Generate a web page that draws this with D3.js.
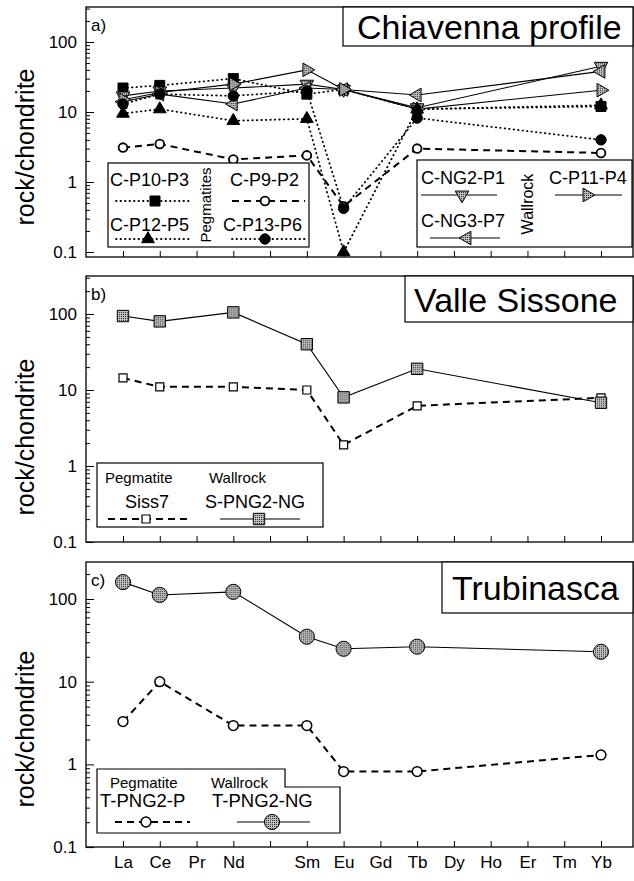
<!DOCTYPE html>
<html>
<head>
<meta charset="utf-8">
<script src="https://cdn.jsdelivr.net/npm/d3@7"></script>
<style>
  body { margin: 0; background: #fff; }
  svg { display: block; font-family: "Liberation Sans", Arial, Helvetica, sans-serif; }
</style>
</head>
<body>
<svg id="chart" width="634" height="881"></svg>
<script>
// REE axis (Pm is a slot without label)
const elements = ["La", "Ce", "Pr", "Nd", "Pm", "Sm", "Eu", "Gd", "Tb", "Dy", "Ho", "Er", "Tm", "Yb"];
const tickLabels = ["La", "Ce", "Pr", "Nd", "", "Sm", "Eu", "Gd", "Tb", "Dy", "Ho", "Er", "Tm", "Yb"];
const measured = ["La", "Ce", "Nd", "Sm", "Eu", "Tb", "Yb"];
const majorTicks = [0.1, 1, 10, 100];

// a) Chiavenna profile
const cP10P3 = [22, 24, 30, 18, 21, 11, 12];
const cP9P2 = [3.1, 3.5, 2.1, 2.4, 0.45, 3.0, 2.6];
const cP12P5 = [9.5, 11, 7.5, 8, 0.1, 11, 12.5];
const cP13P6 = [13, 18, 17, 20, 0.42, 8.2, 4.0];
const cNG2P1 = [17, 20, 22, 25, 21, 11.5, 45];
const cNG3P7 = [14, 18, 13, 22, 21, 17.5, 38];
const cP11P4 = [15, 19, 25, 40, 21, 11, 20.5];

// b) Valle Sissone
const siss7 = [14.4, 11, 11, 10, 1.9, 6.2, 7.9];
const sPNG2NG = [94, 80, 105, 40, 8, 19, 6.8];

// c) Trubinasca
const tPNG2P = [3.3, 10, 2.95, 2.95, 0.82, 0.82, 1.3];
const tPNG2NG = [160, 112, 122, 35, 25, 26.5, 23];

const svg = d3.select("#chart");
const x = d3.scalePoint().domain(elements).range([123, 601]);
const left = 86, right = 633;

// stippled grey fill of the wallrock symbols
const pat = svg.append("defs").append("pattern")
  .attr("id", "stip").attr("width", 2).attr("height", 2)
  .attr("patternUnits", "userSpaceOnUse");
pat.append("rect").attr("width", 2).attr("height", 2).attr("fill", "#bdbdbd");
pat.append("rect").attr("width", 1).attr("height", 1).attr("fill", "#333");

const marks = {
  square:  { type: d3.symbolSquare, size: 100, fill: "#000", rot: 0 },
  tri:     { type: d3.symbolTriangle, size: 70, fill: "#000", rot: 0 },
  dot:     { type: d3.symbolCircle, size: 85, fill: "#000", rot: 0 },
  ocirc:   { type: d3.symbolCircle, size: 60, fill: "#fff", rot: 0, sw: 1.8 },
  tdown:   { type: d3.symbolTriangle, size: 80, fill: "url(#stip)", rot: 180 },
  tleft:   { type: d3.symbolTriangle, size: 80, fill: "url(#stip)", rot: -90 },
  tright:  { type: d3.symbolTriangle, size: 80, fill: "url(#stip)", rot: 90 },
  gsquare: { type: d3.symbolSquare, size: 130, fill: "url(#stip)", rot: 0 },
  osquare: { type: d3.symbolSquare, size: 64, fill: "#fff", rot: 0, sw: 1.2 },
  gcirc:   { type: d3.symbolCircle, size: 180, fill: "url(#stip)", rot: 0 },
  ocirc2:  { type: d3.symbolCircle, size: 75, fill: "#fff", rot: 0, sw: 1.5 }
};

const lines = {
  dotted: { dash: "0.5,4", width: 1.8, cap: "round" },
  dashed: { dash: "7,5", width: 2, cap: "butt" },
  solid:  { dash: null, width: 1.1, cap: "butt" }
};

const panels = [
  {
    top: 7, bottom: 257, y100: 42, decade: 70, tag: "a)",
    title: "Chiavenna profile", box: [343, 7, 633, 46], tx: 357, ty: 39, yTitle: 147,
    series: [
      { name: "C-P10-P3", values: cP10P3, mark: "square", line: "dotted" },
      { name: "C-NG2-P1", values: cNG2P1, mark: "tdown", line: "solid" },
      { name: "C-NG3-P7", values: cNG3P7, mark: "tleft", line: "solid" },
      { name: "C-P11-P4", values: cP11P4, mark: "tright", line: "solid" },
      { name: "C-P9-P2", values: cP9P2, mark: "ocirc", line: "dashed" },
      { name: "C-P13-P6", values: cP13P6, mark: "dot", line: "dotted" },
      { name: "C-P12-P5", values: cP12P5, mark: "tri", line: "dotted" }
    ]
  },
  {
    top: 276, bottom: 542, y100: 314, decade: 76, tag: "b)",
    title: "Valle Sissone", box: [405, 276, 633, 322], tx: 414, ty: 312, yTitle: 437,
    series: [
      { name: "Siss7", values: siss7, mark: "osquare", line: "dashed" },
      { name: "S-PNG2-NG", values: sPNG2NG, mark: "gsquare", line: "solid" }
    ]
  },
  {
    top: 562, bottom: 847, y100: 599, decade: 82.7, tag: "c)",
    title: "Trubinasca", box: [442, 562, 633, 613], tx: 452, ty: 600, yTitle: 729,
    series: [
      { name: "T-PNG2-P", values: tPNG2P, mark: "ocirc2", line: "dashed" },
      { name: "T-PNG2-NG", values: tPNG2NG, mark: "gcirc", line: "solid" }
    ]
  }
];

function drawMark(g, kind, px, py) {
  const m = marks[kind];
  g.append("path")
    .attr("d", d3.symbol().type(m.type).size(m.size)())
    .attr("transform", `translate(${px},${py}) rotate(${m.rot})`)
    .attr("fill", m.fill)
    .attr("stroke", "#000")
    .attr("stroke-width", m.sw || 1);
}

function styleLine(sel, kind) {
  const l = lines[kind];
  sel.attr("fill", "none").attr("stroke", "#000")
    .attr("stroke-width", l.width)
    .attr("stroke-linecap", l.cap)
    .attr("stroke-dasharray", l.dash);
}

function legendSample(g, s, x1, x2, ly, mx) {
  g.append("line").attr("x1", x1).attr("x2", x2).attr("y1", ly).attr("y2", ly)
    .call(styleLine, s.line);
  drawMark(g, s.mark, mx, ly);
}

function label(g, txt, lx, ly, size, rot) {
  const t = g.append("text").attr("font-size", size).text(txt);
  if (rot) {
    t.attr("text-anchor", "middle").attr("transform", `translate(${lx},${ly}) rotate(-90)`);
  } else {
    t.attr("x", lx).attr("y", ly);
  }
  return t;
}

panels.forEach((p, pi) => {
  const g = svg.append("g");
  const y = d3.scaleLog().domain([0.1, 100]).range([p.y100 + 3 * p.decade, p.y100]);

  // frame
  g.append("rect").attr("x", left).attr("y", p.top)
    .attr("width", right - left).attr("height", p.bottom - p.top)
    .attr("fill", "none").attr("stroke", "#000").attr("stroke-width", 1.3);

  // y axis, ticks inside
  const minor = majorTicks.flatMap(d => d3.range(2, 10).map(k => d * k))
    .filter(v => y(v) > p.top + 1 && y(v) < p.bottom - 1);
  g.append("g").attr("transform", `translate(${left},0)`)
    .call(d3.axisLeft(y).tickValues(minor).tickSizeInner(-4).tickSizeOuter(0).tickFormat(""))
    .call(a => a.select(".domain").remove());
  g.append("g").attr("transform", `translate(${left},0)`)
    .call(d3.axisLeft(y).tickValues(majorTicks).tickSizeInner(-8).tickSizeOuter(0)
      .tickPadding(9).tickFormat(d => d < 1 ? "0.1" : d3.format("d")(d)))
    .call(a => a.select(".domain").remove())
    .call(a => a.selectAll("text").attr("font-size", 17).attr("font-family", null));

  // x axis, ticks inside
  g.append("g").attr("transform", `translate(0,${p.bottom})`)
    .call(d3.axisBottom(x).tickSizeInner(-6).tickSizeOuter(0).tickPadding(9)
      .tickFormat((d, i) => pi === 2 ? tickLabels[i] : ""))
    .call(a => a.select(".domain").remove())
    .call(a => a.selectAll("text").attr("font-size", 17).attr("font-family", null));

  // axis title
  label(g, "rock/chondrite", 34, p.yTitle, 25, true);
  label(g, p.tag, 91, p.top + 24, 17);

  // title box
  g.append("rect").attr("x", p.box[0]).attr("y", p.box[1])
    .attr("width", p.box[2] - p.box[0]).attr("height", p.box[3] - p.box[1])
    .attr("fill", "#fff").attr("stroke", "#000").attr("stroke-width", 1.2);
  label(g, p.title, p.tx, p.ty, 34);

  // data lines then symbols
  const line = d3.line().x(d => x(d.el)).y(d => y(d.v));
  p.series.forEach(s => {
    const pts = measured.map((el, i) => ({ el, v: s.values[i] }));
    g.append("path").datum(pts).attr("d", line).call(styleLine, s.line);
  });
  p.series.forEach(s => {
    measured.forEach((el, i) => drawMark(g, s.mark, x(el), y(s.values[i])));
  });

  p.g = g;
});

// legends
const find = (p, n) => panels[p].series.find(s => s.name === n);
const boxStyle = sel => sel.attr("fill", "#fff").attr("stroke", "#000").attr("stroke-width", 1.2);

// a) pegmatites
let lg = panels[0].g.append("g");
lg.append("rect").attr("x", 108).attr("y", 163).attr("width", 201).attr("height", 84).call(boxStyle);
label(lg, "C-P10-P3", 110, 186, 18);
legendSample(lg, find(0, "C-P10-P3"), 116, 190, 201, 155);
label(lg, "C-P12-P5", 110, 231, 18);
legendSample(lg, find(0, "C-P12-P5"), 116, 190, 239, 148);
label(lg, "Pegmatites", 211, 205, 15, true);
label(lg, "C-P9-P2", 230, 186, 18);
legendSample(lg, find(0, "C-P9-P2"), 232, 305, 201, 265);
label(lg, "C-P13-P6", 223, 231, 18);
legendSample(lg, find(0, "C-P13-P6"), 232, 305, 239, 265);

// a) wallrock
lg = panels[0].g.append("g");
lg.append("rect").attr("x", 417).attr("y", 160).attr("width", 215).attr("height", 87).call(boxStyle);
label(lg, "C-NG2-P1", 421, 184, 18);
legendSample(lg, find(0, "C-NG2-P1"), 421, 497, 195, 462);
label(lg, "C-NG3-P7", 421, 227, 18);
legendSample(lg, find(0, "C-NG3-P7"), 430, 500, 238, 467);
label(lg, "Wallrock", 533, 204, 16, true);
label(lg, "C-P11-P4", 549, 184, 18);
legendSample(lg, find(0, "C-P11-P4"), 555, 622, 195, 587);

// b)
lg = panels[1].g.append("g");
lg.append("rect").attr("x", 97).attr("y", 463).attr("width", 226).attr("height", 64).call(boxStyle);
label(lg, "Pegmatite", 105, 483, 15);
label(lg, "Wallrock", 209, 483, 15);
label(lg, "Siss7", 147, 508, 18).attr("text-anchor", "middle");
label(lg, "S-PNG2-NG", 205, 508, 18);
legendSample(lg, find(1, "Siss7"), 108, 188, 519, 146);
legendSample(lg, find(1, "S-PNG2-NG"), 220, 300, 519, 259);

// c)
lg = panels[2].g.append("g");
lg.append("path").attr("d", "M97,769H285V787H340V833H97Z").call(boxStyle);
label(lg, "Pegmatite", 110, 788, 15);
label(lg, "Wallrock", 211, 788, 15);
label(lg, "T-PNG2-P", 100, 807, 18.5);
label(lg, "T-PNG2-NG", 212, 807, 18.5);
legendSample(lg, find(2, "T-PNG2-P"), 115, 190, 822, 146);
legendSample(lg, find(2, "T-PNG2-NG"), 237, 310, 822, 272);
</script>
</body>
</html>
